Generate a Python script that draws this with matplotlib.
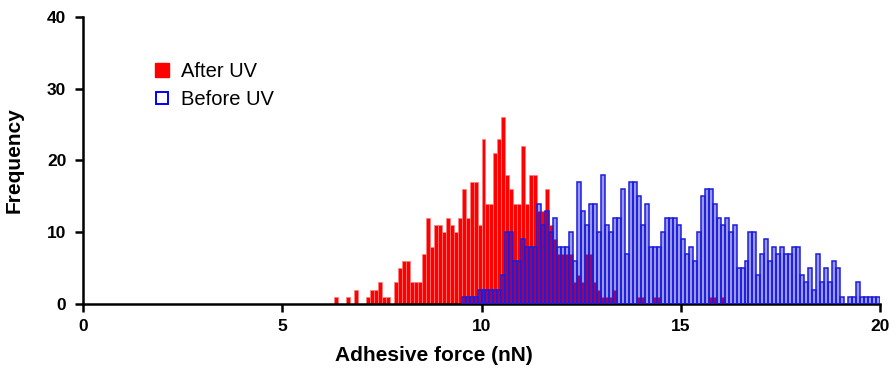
import numpy as np
import matplotlib.pyplot as plt
from matplotlib.lines import Line2D

plt.rcParams['font.family'] = ['Liberation Sans', 'DejaVu Sans']

# histogram bins are 0.1 nN wide
bin_width = 0.1

# After UV counts, bins starting at 6.2 nN
red_start = 6.2
red_counts = [0, 1, 0, 0, 1,
              0, 2, 0, 0, 1,
              2, 2, 3, 1, 1,
              0, 3, 5, 6, 6,
              3, 3, 3, 7, 12,
              8, 11, 11, 10, 12,
              11, 10, 12, 16, 12,
              17, 17, 11, 23, 14,
              14, 21, 23, 26, 18,
              16, 14, 14, 22, 14,
              18, 18, 13, 13, 16,
              11, 9, 7, 7, 7,
              7, 3, 4, 3, 7,
              7, 3, 2, 1, 1,
              1, 2]
# a few isolated After UV counts further right
red_tail_x = [13.9, 14.0, 14.3, 14.4, 15.7, 15.8, 16.0]
red_tail_counts = [1, 1, 1, 1, 1, 1, 1]

# Before UV counts, bins starting at 9.5 nN
blue_start = 9.5
blue_counts = [1, 1, 1, 1, 2,
               2, 2, 2, 2, 2,
               4, 10, 10, 6, 6,
               9, 8, 8, 8, 14,
               11, 13, 10, 12, 8,
               8, 8, 10, 6, 17,
               13, 11, 14, 14, 10,
               18, 11, 10, 12, 12,
               16, 7, 17, 17, 15,
               11, 14, 8, 8, 8,
               10, 12, 12, 12, 11,
               9, 7, 8, 6, 10,
               15, 16, 16, 14, 12,
               11, 12, 10, 11, 5,
               5, 6, 10, 10, 4,
               7, 9, 6, 8, 7,
               8, 7, 7, 8, 8,
               4, 3, 5, 2, 7,
               3, 5, 3, 6, 5,
               1, 0, 1, 1, 3,
               1, 1, 1, 1, 1]

x_ticks = [0, 5, 10, 15, 20]
y_ticks = [0, 10, 20, 30, 40]

red_x = np.concatenate([red_start + bin_width * np.arange(len(red_counts)), red_tail_x])
red_y = np.concatenate([red_counts, red_tail_counts])
blue_x = blue_start + bin_width * np.arange(len(blue_counts))

fig = plt.figure(figsize=(8.96, 3.71), dpi=100)
ax = fig.add_axes([83 / 896, 1 - 304 / 371, (880 - 83) / 896, (304 - 17) / 371])

ax.bar(red_x, red_y, width=bin_width, align='edge',
       facecolor='#ff0000', edgecolor='#ff8080', linewidth=0.5, zorder=2)
ax.bar(blue_x, blue_counts, width=bin_width, align='edge',
       facecolor=(0.05, 0.05, 0.9, 0.42), edgecolor='#1c1cdc', linewidth=1.1, zorder=3)

ax.set_xlim(0, 20)
ax.set_ylim(0, 40)
ax.set_xticks(x_ticks)
ax.set_yticks(y_ticks)
ax.spines['top'].set_visible(False)
ax.spines['right'].set_visible(False)
for s in ['left', 'bottom']:
    ax.spines[s].set_linewidth(1.8)
ax.tick_params(direction='out', length=6, width=1.8, labelsize=12.5)
ax.tick_params(axis='y', pad=6)
ax.tick_params(axis='x', pad=5)
for lab in ax.get_xticklabels() + ax.get_yticklabels():
    lab.set_fontweight('bold')

ax.set_xlabel('Adhesive force (nN)', fontsize=15, fontweight='bold')
ax.xaxis.set_label_coords((434 - 83) / 797, -0.145)
ax.set_ylabel('Frequency', fontsize=15, fontweight='bold')
ax.yaxis.set_label_coords(-0.074, 0.5)

handles = [Line2D([], [], marker='s', linestyle='none', markersize=10,
                  markerfacecolor='red', markeredgecolor='red'),
           Line2D([], [], marker='s', linestyle='none', markersize=9,
                  markerfacecolor='white', markeredgecolor='blue', markeredgewidth=1.4)]
ax.legend(handles, ['After UV', 'Before UV'], loc='upper left',
          bbox_to_anchor=(0.064, 0.905), frameon=False, fontsize=14.5,
          handlelength=1.0, handletextpad=0.45, labelspacing=0.42)

fig.savefig('out.png', dpi=100)
